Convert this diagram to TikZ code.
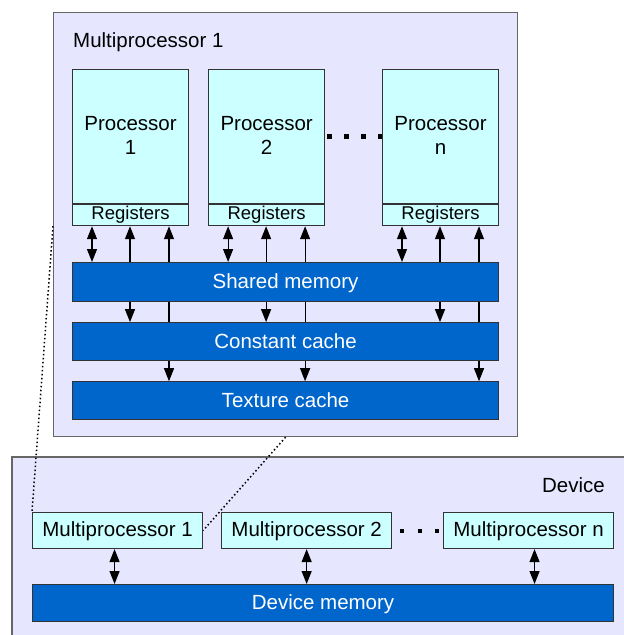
\documentclass[tikz,border=0pt]{standalone}
\usepackage{fontspec}
\setmainfont{Liberation Sans}
\usepackage{tikz}
\usetikzlibrary{arrows.meta,positioning,calc}

\definecolor{panelbg}{HTML}{E6E6FF}
\definecolor{unitbg}{HTML}{CCFFFF}
\definecolor{membg}{HTML}{0066CC}
\definecolor{edge}{HTML}{333333}

\begin{document}
\begin{tikzpicture}[x=1pt, y=1pt]
\tikzset{
  panel/.style={fill=panelbg, draw=gray!80!black, line width=1.2pt, anchor=north west, inner sep=0pt},
  unit/.style={fill=unitbg, draw=edge, line width=1.1pt, align=center, inner sep=0pt, font=\fontsize{20.5}{24}\selectfont},
  regs/.style={unit, minimum width=116pt, minimum height=21pt, font=\fontsize{18.5}{22}\selectfont},
  mem/.style={fill=membg, draw=edge, line width=1.1pt, text=white, inner sep=0pt, text depth=2pt, font=\fontsize{20.5}{24}\selectfont},
  link/.style={line width=1.2pt},
  fwd/.style={link, -{Triangle[length=13pt,width=10pt]}},
  both/.style={link, {Triangle[length=13pt,width=10pt]}-{Triangle[length=13pt,width=10pt]}},
  zoomline/.style={line width=1.5pt, dash pattern=on 1.5pt off 2.5pt},
  etc/.style={line width=5pt, dash pattern=on 5pt off 12pt},
}
\useasboundingbox (0,0) rectangle (624,-635);

% Multiprocessor panel
\node (mpbox) [panel, minimum width=464pt, minimum height=424pt] at (53,-12) {};
\node (mptitle) [anchor=west, inner sep=0pt, font=\fontsize{20.5}{24}\selectfont] at (73,-42) {Multiprocessor 1};

% Processors
\node (proc1) [unit, anchor=north west, minimum width=116pt, minimum height=134pt, text depth=2pt] at (72,-69) {Processor\\1};
\node (proc2) [unit, right=19pt of proc1, minimum width=116pt, minimum height=134pt, text depth=2pt] {Processor\\2};
\node (procn) [unit, anchor=north west, minimum width=116pt, minimum height=134pt, text depth=2pt] at (382,-69) {Processor\\n};
\node (regs1) [regs, below=0pt of proc1] {Registers};
\node (regs2) [regs, below=0pt of proc2] {Registers};
\node (regsn) [regs, below=0pt of procn] {Registers};
\draw[etc, shorten <=2pt] (proc2.east) -- (procn.west);

% On-chip memories
\node (shared) [mem, anchor=north west, minimum width=426pt, minimum height=39pt] at (72,-262) {Shared memory};
\node (const) [mem, below=20pt of shared, minimum width=426pt, minimum height=38pt] {Constant cache};
\node (tex) [mem, below=20pt of const, minimum width=426pt, minimum height=38pt] {Texture cache};

% Processor <-> memory links
\foreach \p in {1,2,n} {
  \coordinate (a\p) at ([xshift=20pt]regs\p.south west);
  \coordinate (b\p) at ([xshift=58pt]regs\p.south west);
  \coordinate (c\p) at ([xshift=97pt]regs\p.south west);
  \draw[both] (a\p) -- (a\p |- shared.north);
  \draw[fwd] (b\p |- shared.north) -- (b\p);
  \draw[fwd] (c\p |- shared.north) -- (c\p);
  \draw[fwd] (b\p |- shared.south) -- (b\p |- const.north);
  \draw[link] (c\p |- shared.south) -- (c\p |- const.north);
  \draw[fwd] (c\p |- const.south) -- (c\p |- tex.north);
}

% Device panel
\node (dev) [panel, draw=none, minimum width=612pt, minimum height=178pt] at (12,-457) {};
\draw[line width=1.2pt, draw=gray!80!black] (dev.south west) |- (dev.north east);
\node (devtitle) [anchor=east, inner sep=0pt, font=\fontsize{20.5}{24}\selectfont] at (605,-485) {Device};

% Multiprocessors
\node (mp1) [unit, anchor=north west, minimum width=170pt, minimum height=36pt, text depth=2pt] at (32,-512) {Multiprocessor 1};
\node (mp2) [unit, right=18pt of mp1, minimum width=170pt, minimum height=36pt, text depth=2pt] {Multiprocessor 2};
\node (mpn) [unit, anchor=north west, minimum width=170pt, minimum height=36pt, text depth=2pt] at (443,-512) {Multiprocessor n};
\draw[etc, line width=4pt, dash pattern=on 4pt off 13.5pt, shorten <=8pt] (mp2.east) -- (mpn.west);

\node (devmem) [mem, anchor=north west, minimum width=581pt, minimum height=37pt] at (32,-584) {Device memory};
\draw[both] ([xshift=-3pt]mp1.south) -- ([xshift=-3pt]mp1.south |- devmem.north);
\draw[both] (mp2.south) -- (mp2.south |- devmem.north);
\draw[both] ([xshift=6pt]mpn.south) -- ([xshift=6pt]mpn.south |- devmem.north);

% Zoom lines
\draw[zoomline] (mpbox.west |- regs1.south) -- (mp1.north west);
\draw[zoomline] (mpbox.south) -- (mp1.east);

\end{tikzpicture}
\end{document}
